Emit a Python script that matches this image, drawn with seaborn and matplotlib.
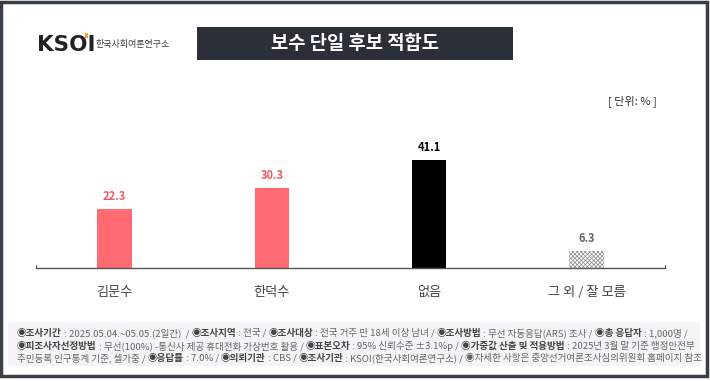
import matplotlib
matplotlib.use("Agg")
import matplotlib.pyplot as plt
import seaborn as sns
import pandas as pd
from matplotlib.patches import Rectangle

categories = ["김문수", "한덕수", "없음", "그 외 / 잘 모름"]
values = [22.3, 30.3, 41.1, 6.3]
bar_colors = ["#FF6B70", "#FF6B70", "#000000", "#FFFFFF"]
label_colors = ["#EE5A66", "#EE5A66", "#000000", "#666666"]
title = "보수 단일 후보 적합도"
unit_label = "[ 단위: % ]"
footer_lines = [
    [("◉조사기간", True), (" : 2025.05.04.~05.05.(2일간)  / ", False), ("◉조사지역", True), (" : 전국 / ", False),
     ("◉조사대상", True), (" : 전국 거주 만 18세 이상 남녀 / ", False), ("◉조사방법", True),
     (" : 무선 자동응답(ARS) 조사 / ", False), ("◉총 응답자", True), (" : 1,000명 /", False)],
    [("◉피조사자선정방법", True), (" : 무선(100%) -통신사 제공 휴대전화 가상번호 활용 / ", False), ("◉표본오차", True),
     (" : 95% 신뢰수준 ±3.1%p / ", False), ("◉가중값 산출 및 적용방법", True), (" : 2025년 3월 말 기준 행정안전부", False)],
    [("주민등록 인구통계 기준, 셀가중 / ", False), ("◉응답률", True), (" : 7.0% / ", False), ("◉의뢰기관", True),
     (" : CBS / ", False), ("◉조사기관", True), (" : KSOI(한국사회여론연구소) / ", False),
     ("◉자세한 사항은 중앙선거여론조사심의위원회 홈페이지 참조", False)],
]

sns.set_theme(style="white")
plt.rcParams["font.family"] = ["Noto Sans CJK KR", "DejaVu Sans"]
plt.rcParams["hatch.linewidth"] = 0.5

W, H = 710, 381
fig = plt.figure(figsize=(W / 100, H / 100), dpi=100)
fig.patch.set_facecolor("white")

def fx(px):
    return px / W

def fy(py):
    return 1 - py / H

# outer frame
fig.patches.append(Rectangle((fx(1.5), fy(376)), fx(705), (376 - 1.5) / H, transform=fig.transFigure,
                             fill=False, edgecolor="#3A3F46", linewidth=2.5, zorder=0))

# footer box
fig.patches.append(Rectangle((fx(8), fy(366)), fx(692), 44 / H, transform=fig.transFigure,
                             facecolor="#F4F4F6", edgecolor="none", zorder=0))

# title box
fig.patches.append(Rectangle((fx(197), fy(60)), fx(316), 33 / H, transform=fig.transFigure,
                             facecolor="#2B3038", edgecolor="none", zorder=1))
fig.text(fx(355), fy(43.5), title, color="white", fontsize=13.5, fontweight="bold",
         ha="center", va="center", zorder=2)

# logo
fig.text(fx(37), fy(45), "KSOI", color="#222222", fontsize=15.5, fontweight="bold",
         ha="left", va="center", family=["DejaVu Sans"])
fig.patches.append(Rectangle((fx(85), fy(38)), fx(3), 5 / H, transform=fig.transFigure,
                             facecolor="#F5A623", edgecolor="none", zorder=3))
fig.text(fx(96), fy(45), "한국사회여론연구소", color="#444444", fontsize=6.5, ha="left", va="center")

fig.text(fx(657), fy(101), unit_label, color="#333333", fontsize=8, ha="right", va="center")

# main axes
base_y = 268
top_y = 268 - 50 * 2.63
ax = fig.add_axes([fx(36), fy(base_y), fx(629), (base_y - top_y) / H])
df = pd.DataFrame({"cat": categories, "val": values})
sns.barplot(data=df, x="cat", y="val", hue="cat", palette=bar_colors, legend=False,
            width=0.22, ax=ax, saturation=1)
ax.set_ylim(0, 50)
ax.set_xlim(-0.5, 3.5)
for i, p in enumerate(ax.patches):
    p.set_linewidth(0)
    if i == 3:
        p.set_facecolor("white")
        p.set_hatch("xxxxxxxx")
        p.set_edgecolor("#8A8A8A")
for i, v in enumerate(values):
    ax.annotate(f"{v:.1f}", (i, v), xytext=(0, 9), textcoords="offset points",
                ha="center", va="center", fontsize=8, fontweight="bold", color=label_colors[i])

for s in ["top", "right", "left"]:
    ax.spines[s].set_visible(False)
ax.spines["bottom"].set_color("#555555")
ax.spines["bottom"].set_linewidth(1)
ax.set_yticks([])
ax.set_xlabel("")
ax.set_ylabel("")
ax.tick_params(axis="x", length=0, pad=13, labelsize=9.5, labelcolor="#444444")
ax.set_facecolor("none")
# small end ticks
ax.plot([-0.5, -0.5], [0, 1.2], color="#555555", lw=0.8, clip_on=False)
ax.plot([3.5, 3.5], [0, 1.2], color="#555555", lw=0.8, clip_on=False)

# footer text
fig.canvas.draw()
renderer = fig.canvas.get_renderer()
line_ys = [333, 346, 358]
for line, py in zip(footer_lines, line_ys):
    x = 17
    for txt, bold in line:
        t = fig.text(fx(x), fy(py), txt, fontsize=6.9,
                     color="#444444" if bold else "#666666",
                     fontweight="bold" if bold else "normal", ha="left", va="center")
        bb = t.get_window_extent(renderer=renderer)
        x += bb.width

fig.savefig("out.png", dpi=100, facecolor="white")
